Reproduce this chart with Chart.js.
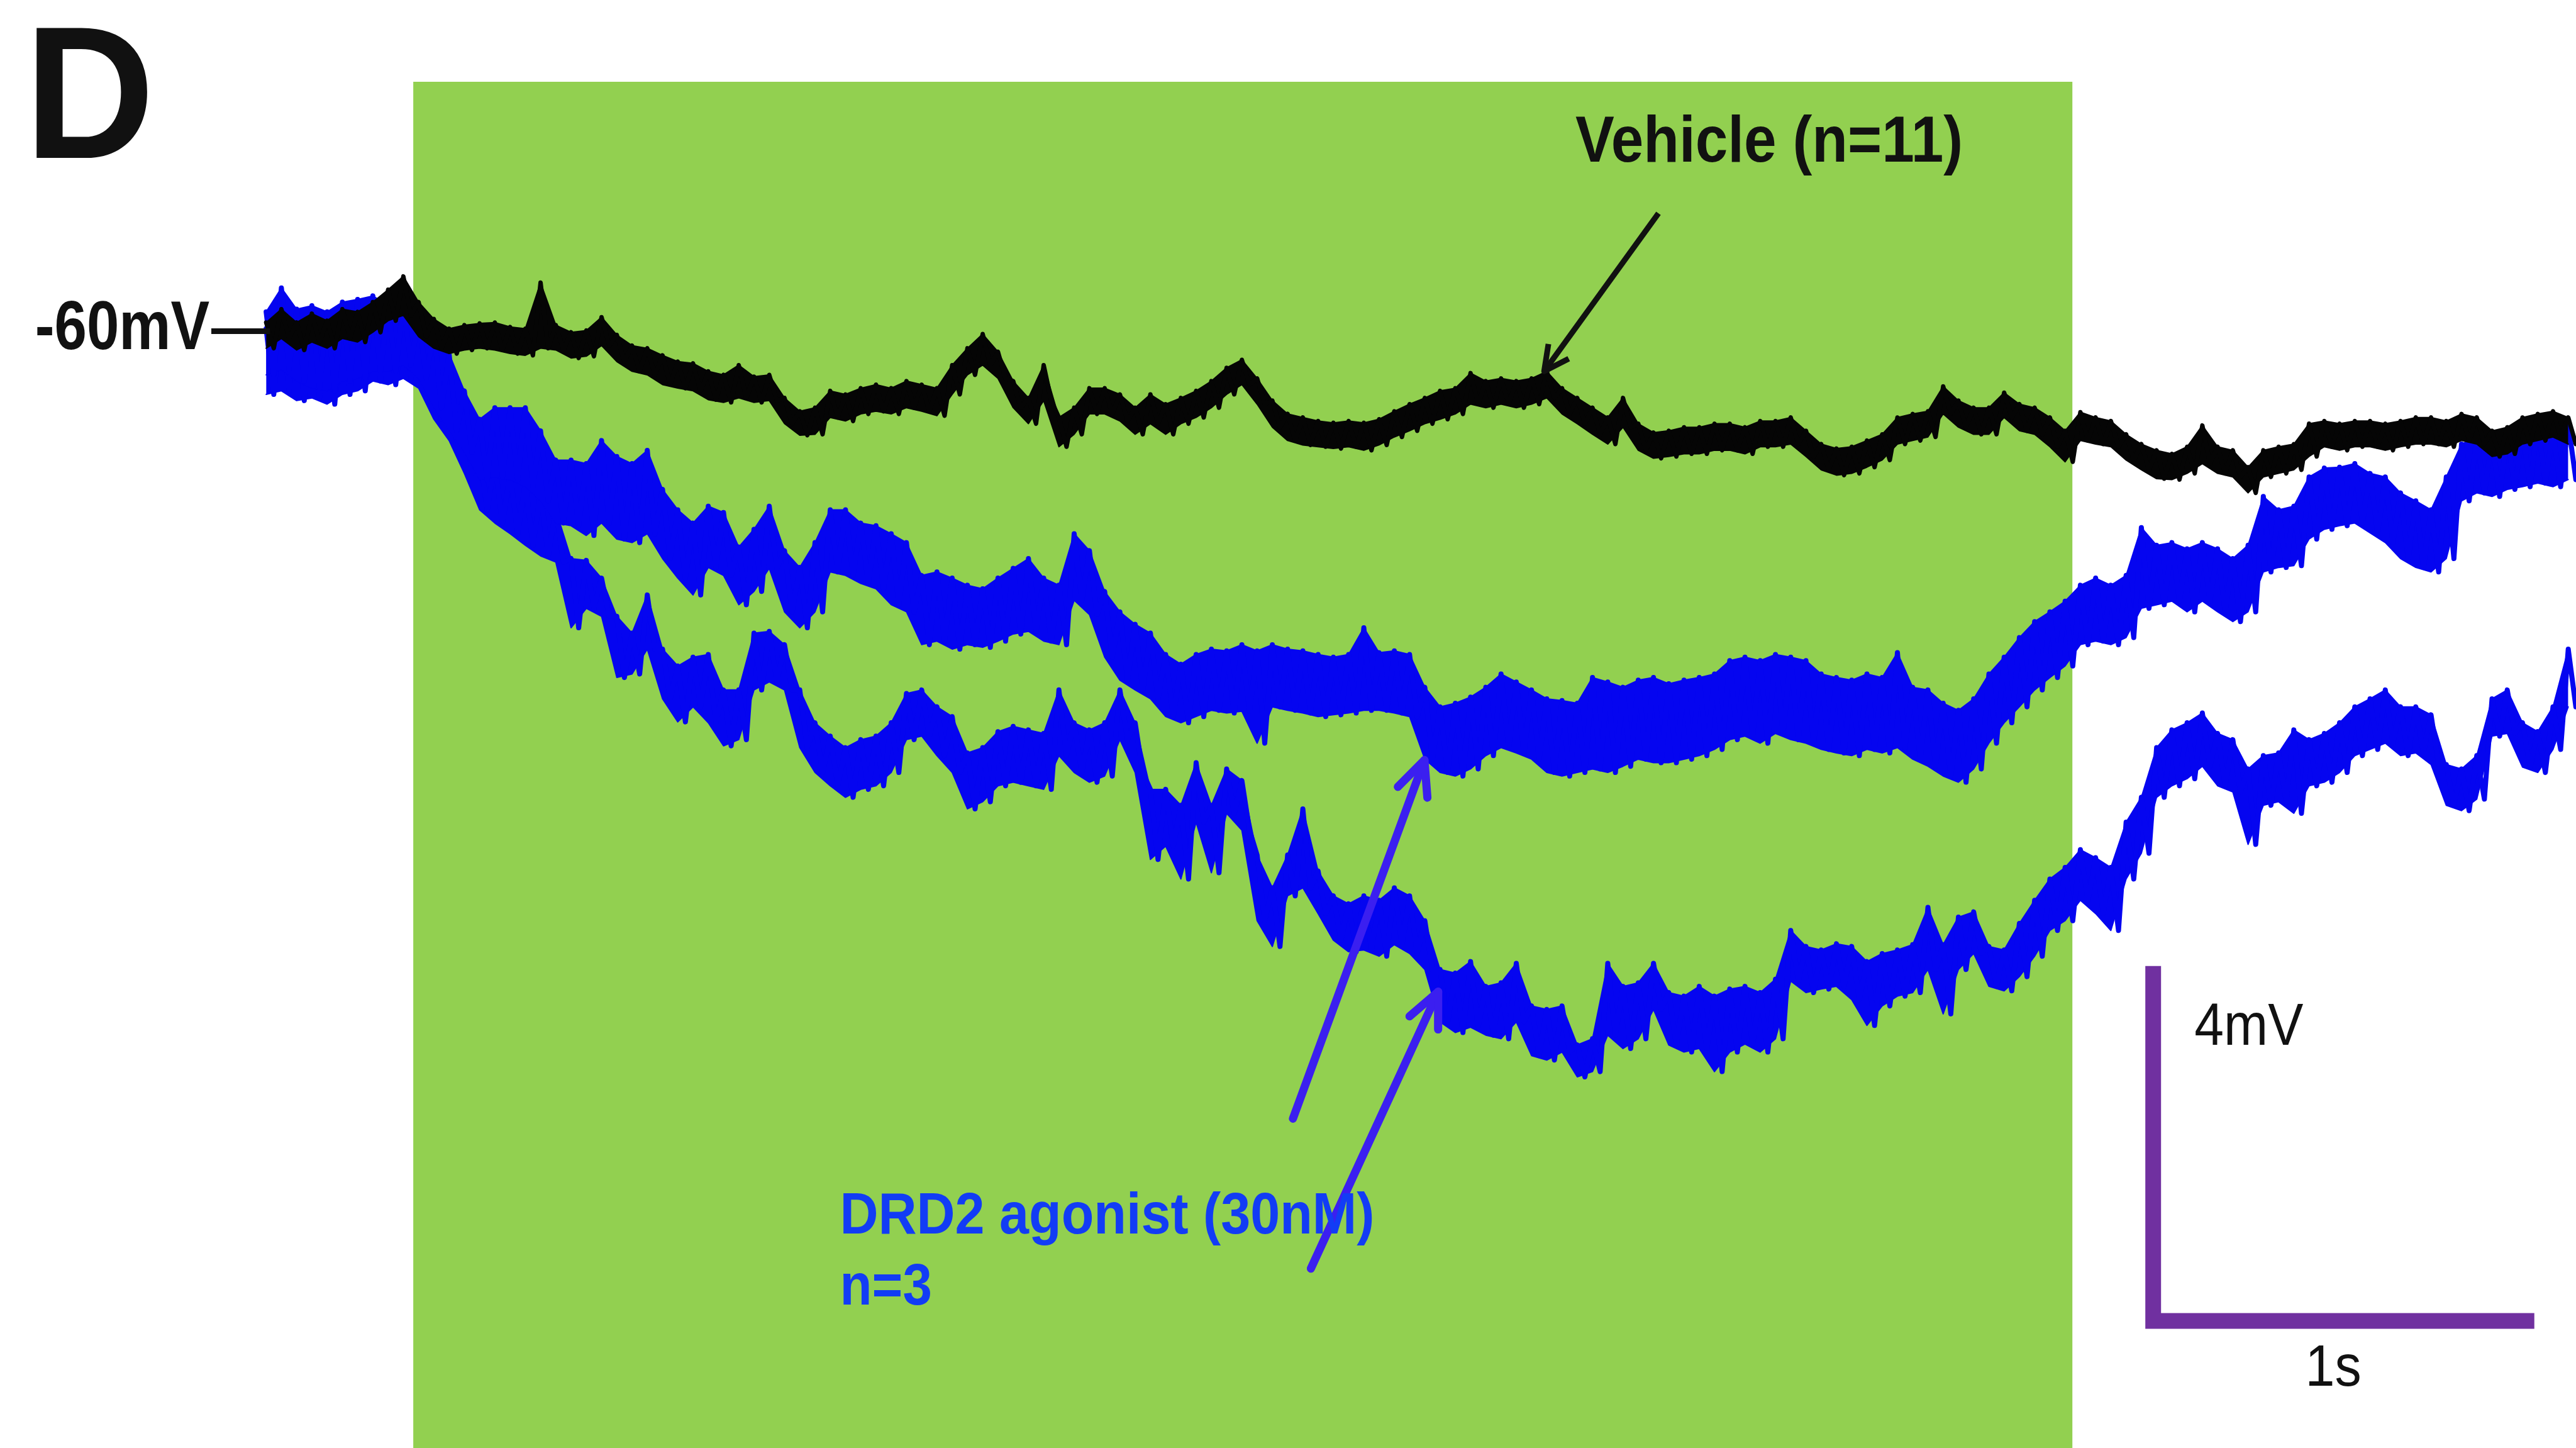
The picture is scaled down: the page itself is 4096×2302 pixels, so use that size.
<!DOCTYPE html>
<html>
<head>
<meta charset="utf-8">
<title>DRD2 agonist vs vehicle – membrane potential</title>
<style>
  html, body { margin: 0; padding: 0; background: #ffffff; overflow: hidden; }
  canvas { display: block; }
</style>
<script src="https://cdn.jsdelivr.net/npm/chart.js@4.4.1/dist/chart.umd.min.js"></script>
</head>
<body>
<canvas id="trace" width="4096" height="2302" style="width:4096px;height:2302px"></canvas>
<script>
// Membrane potential traces, as deflection (mV) from the -60 mV resting level.
// Each trace is stored as the upper and lower edge of its noise band,
// one pair of values per 40 ms bin, starting at t = 0 s.
const sampleInterval = 0.04; // s

// Drug application window (s)
const drugOn = 0.386;
const drugOff = 4.739;

// Vehicle (n=11)
const vehicleUpper = [
  0.07, 0.22, 0.07, 0.17, 0.09, 0.22, 0.19, 0.30, 0.44, 0.59,
  0.30, 0.11, 0.00, 0.04, 0.06, 0.07, 0.02, 0.00, 0.52, 0.04,
  -0.04, -0.02, 0.13, -0.07, -0.19, -0.22, -0.30, -0.37, -0.39, -0.48,
  -0.52, -0.41, -0.54, -0.52, -0.78, -0.93, -0.89, -0.70, -0.74, -0.67,
  -0.63, -0.67, -0.59, -0.63, -0.67, -0.41, -0.22, -0.06, -0.26, -0.59,
  -0.78, -0.41, -1.00, -0.89, -0.67, -0.67, -0.74, -0.89, -0.74, -0.85,
  -0.78, -0.70, -0.59, -0.44, -0.35, -0.56, -0.81, -0.96, -1.00, -1.04,
  -1.06, -1.04, -1.06, -1.02, -0.93, -0.85, -0.78, -0.70, -0.67, -0.50,
  -0.59, -0.56, -0.59, -0.56, -0.48, -0.67, -0.78, -0.89, -1.00, -0.78,
  -1.07, -1.17, -1.15, -1.11, -1.11, -1.07, -1.07, -1.11, -1.04, -1.04,
  -1.00, -1.15, -1.30, -1.35, -1.33, -1.26, -1.19, -1.00, -0.96, -0.93,
  -0.65, -0.81, -0.89, -0.89, -0.72, -0.85, -0.89, -1.00, -1.15, -0.94,
  -1.00, -1.04, -1.19, -1.30, -1.37, -1.41, -1.33, -1.09, -1.33, -1.37,
  -1.56, -1.37, -1.33, -1.30, -1.07, -1.04, -1.07, -1.04, -1.04, -1.07,
  -1.04, -1.00, -1.00, -1.04, -0.96, -1.00, -1.15, -1.11, -1.00, -0.96,
  -0.93, -1.00
];
const vehicleLower = [
  -0.22, -0.11, -0.24, -0.15, -0.22, -0.11, -0.15, -0.04, 0.09, 0.15,
  -0.09, -0.22, -0.28, -0.24, -0.22, -0.24, -0.28, -0.30, -0.22, -0.24,
  -0.33, -0.31, -0.19, -0.37, -0.48, -0.52, -0.63, -0.67, -0.70, -0.80,
  -0.83, -0.78, -0.83, -0.81, -1.07, -1.20, -1.19, -1.00, -1.04, -0.96,
  -0.93, -0.96, -0.89, -0.93, -0.98, -0.74, -0.52, -0.41, -0.56, -0.89,
  -1.07, -0.81, -1.33, -1.19, -0.96, -0.96, -1.04, -1.19, -1.07, -1.19,
  -1.07, -1.00, -0.89, -0.74, -0.63, -0.85, -1.11, -1.26, -1.31, -1.33,
  -1.35, -1.33, -1.37, -1.31, -1.22, -1.15, -1.07, -1.02, -0.96, -0.85,
  -0.89, -0.85, -0.89, -0.85, -0.78, -0.96, -1.07, -1.19, -1.30, -1.11,
  -1.37, -1.46, -1.44, -1.41, -1.41, -1.37, -1.37, -1.41, -1.33, -1.33,
  -1.30, -1.44, -1.59, -1.65, -1.63, -1.56, -1.48, -1.30, -1.26, -1.22,
  -0.96, -1.11, -1.19, -1.19, -1.00, -1.15, -1.19, -1.33, -1.50, -1.26,
  -1.30, -1.33, -1.48, -1.59, -1.69, -1.70, -1.63, -1.52, -1.63, -1.67,
  -1.85, -1.67, -1.63, -1.59, -1.44, -1.33, -1.37, -1.33, -1.33, -1.37,
  -1.33, -1.30, -1.30, -1.33, -1.26, -1.30, -1.44, -1.41, -1.30, -1.26,
  -1.22, -1.30
];

// DRD2 agonist (30 nM), cell with the smaller hyperpolarisation
const agonistShallowUpper = [
  0.19, 0.46, 0.22, 0.26, 0.19, 0.30, 0.33, 0.37, 0.26, 0.30,
  0.15, 0.00, -0.28, -0.70, -1.02, -0.89, -0.89, -0.89, -1.15, -1.48,
  -1.48, -1.52, -1.26, -1.44, -1.52, -1.37, -1.81, -2.04, -2.19, -2.00,
  -2.07, -2.46, -2.26, -2.00, -2.50, -2.69, -2.41, -2.04, -2.04, -2.19,
  -2.22, -2.31, -2.41, -2.78, -2.74, -2.81, -2.89, -2.93, -2.81, -2.70,
  -2.59, -2.81, -2.89, -2.31, -2.50, -2.96, -3.19, -3.33, -3.43, -3.67,
  -3.78, -3.67, -3.61, -3.63, -3.56, -3.63, -3.56, -3.61, -3.63, -3.67,
  -3.70, -3.67, -3.37, -3.65, -3.63, -3.67, -4.04, -4.26, -4.22, -4.15,
  -4.04, -3.89, -3.98, -4.07, -4.17, -4.19, -4.22, -3.93, -3.98, -4.04,
  -3.96, -3.93, -4.00, -3.96, -3.93, -3.89, -3.74, -3.70, -3.74, -3.67,
  -3.70, -3.74, -3.89, -3.93, -3.96, -3.89, -3.93, -3.65, -4.04, -4.07,
  -4.22, -4.30, -4.17, -3.89, -3.70, -3.48, -3.30, -3.19, -3.07, -2.89,
  -2.81, -2.89, -2.78, -2.24, -2.44, -2.41, -2.48, -2.41, -2.48, -2.59,
  -2.44, -1.89, -2.04, -2.00, -1.67, -1.57, -1.56, -1.52, -1.63, -1.67,
  -1.85, -1.94, -2.04, -1.67, -1.30, -1.22, -1.26, -1.19, -1.15, -1.07,
  -1.15, -1.07
];
const agonistShallowLower = [
  -0.52, -0.46, -0.59, -0.67, -0.70, -0.59, -0.56, -0.48, -0.48, -0.41,
  -0.56, -0.89, -1.15, -1.39, -1.70, -1.67, -1.70, -1.78, -1.94, -2.19,
  -2.22, -2.33, -2.19, -2.37, -2.41, -2.31, -2.59, -2.81, -3.00, -2.69,
  -2.78, -3.11, -2.96, -2.70, -3.19, -3.37, -3.19, -2.74, -2.78, -2.87,
  -2.93, -3.11, -3.19, -3.56, -3.52, -3.61, -3.56, -3.59, -3.52, -3.44,
  -3.41, -3.52, -3.56, -3.06, -3.22, -3.70, -3.96, -4.07, -4.17, -4.37,
  -4.44, -4.37, -4.30, -4.33, -4.31, -4.67, -4.26, -4.30, -4.33, -4.37,
  -4.35, -4.33, -4.30, -4.30, -4.33, -4.37, -4.85, -5.00, -5.04, -4.96,
  -4.81, -4.72, -4.78, -4.85, -5.00, -5.04, -5.00, -4.96, -5.00, -4.93,
  -4.85, -4.89, -4.89, -4.85, -4.81, -4.74, -4.63, -4.59, -4.67, -4.56,
  -4.63, -4.67, -4.74, -4.78, -4.81, -4.74, -4.78, -4.72, -4.85, -4.93,
  -5.04, -5.11, -4.96, -4.67, -4.44, -4.26, -4.07, -3.93, -3.80, -3.56,
  -3.52, -3.56, -3.48, -3.15, -3.11, -3.07, -3.19, -3.07, -3.19, -3.30,
  -3.19, -2.74, -2.69, -2.67, -2.37, -2.26, -2.22, -2.19, -2.30, -2.41,
  -2.59, -2.69, -2.74, -2.59, -1.94, -1.85, -1.89, -1.81, -1.78, -1.74,
  -1.78, -1.70
];

// DRD2 agonist (30 nM), cell with the larger hyperpolarisation
const agonistDeepUpper = [
  0.00, 0.15, 0.04, 0.07, 0.00, 0.11, 0.07, 0.15, 0.07, 0.11,
  0.00, -0.28, -0.56, -1.02, -1.39, -1.52, -1.63, -1.74, -1.85, -2.04,
  -2.59, -2.61, -2.81, -3.24, -3.43, -3.00, -3.61, -3.80, -3.70, -3.67,
  -4.07, -4.07, -3.43, -3.41, -3.56, -4.07, -4.44, -4.59, -4.72, -4.63,
  -4.59, -4.44, -4.11, -4.07, -4.26, -4.37, -4.78, -4.72, -4.54, -4.48,
  -4.52, -4.56, -4.07, -4.44, -4.52, -4.44, -4.07, -4.44, -5.19, -5.19,
  -5.37, -4.89, -5.37, -4.96, -5.09, -5.93, -6.30, -5.93, -5.41, -6.11,
  -6.39, -6.48, -6.39, -6.44, -6.30, -6.39, -6.67, -7.22, -7.26, -7.13,
  -7.41, -7.37, -7.15, -7.63, -7.67, -7.63, -8.07, -8.00, -7.15, -7.41,
  -7.37, -7.15, -7.48, -7.52, -7.41, -7.52, -7.44, -7.41, -7.48, -7.33,
  -6.78, -6.96, -7.00, -6.93, -6.96, -7.13, -7.04, -7.00, -6.94, -6.52,
  -6.94, -6.63, -6.57, -6.96, -7.00, -6.70, -6.44, -6.20, -6.07, -5.87,
  -5.96, -6.07, -5.56, -5.28, -4.72, -4.52, -4.44, -4.33, -4.56, -4.63,
  -4.96, -4.81, -4.78, -4.52, -4.63, -4.56, -4.44, -4.26, -4.17, -4.07,
  -4.26, -4.26, -4.35, -4.91, -4.96, -4.81, -4.17, -4.07, -4.44, -4.54,
  -4.26, -3.61
];
const agonistDeepLower = [
  -0.74, -0.70, -0.81, -0.78, -0.85, -0.74, -0.70, -0.59, -0.63, -0.56,
  -0.67, -1.02, -1.26, -1.63, -2.04, -2.19, -2.31, -2.44, -2.56, -2.63,
  -3.37, -3.15, -3.24, -3.93, -3.89, -3.61, -4.17, -4.43, -4.26, -4.44,
  -4.70, -4.63, -4.07, -3.98, -4.07, -4.72, -5.00, -5.15, -5.28, -5.19,
  -5.15, -5.00, -4.63, -4.59, -4.81, -5.00, -5.41, -5.33, -5.15, -5.11,
  -5.15, -5.19, -4.81, -5.00, -5.11, -5.04, -4.63, -5.00, -5.98, -5.83,
  -6.20, -5.56, -6.13, -5.46, -5.65, -6.67, -6.96, -6.39, -6.30, -6.59,
  -6.89, -7.02, -7.00, -7.07, -6.94, -7.04, -7.22, -7.81, -7.93, -7.87,
  -7.96, -8.00, -7.81, -8.19, -8.24, -8.15, -8.43, -8.37, -7.96, -8.11,
  -8.00, -7.67, -8.07, -8.15, -8.11, -8.37, -8.15, -8.06, -8.15, -8.00,
  -7.35, -7.48, -7.44, -7.41, -7.56, -7.85, -7.63, -7.52, -7.48, -7.22,
  -7.72, -7.22, -7.04, -7.41, -7.46, -7.30, -7.07, -6.78, -6.67, -6.44,
  -6.59, -6.78, -6.20, -5.91, -5.28, -5.15, -5.07, -4.93, -5.15, -5.22,
  -5.81, -5.37, -5.33, -5.46, -5.15, -5.11, -5.00, -4.81, -4.74, -4.67,
  -4.81, -4.78, -4.91, -5.37, -5.43, -5.30, -4.59, -4.56, -4.94, -5.00,
  -4.74, -4.26
];

// Scale bar values
const scaleBarTime = 1;     // s
const scaleBarVoltage = 4;  // mV

// Band edge as a line, one point per bin.
function edgePoints(values) {
  return values.map((v, i) => ({ x: i * sampleInterval, y: v }));
}
// Interleave the band edges so the line sweeps top-bottom-top through each bin.
function bandToPoints(upper, lower) {
  const pts = [];
  for (let i = 0; i < upper.length; i++) {
    pts.push({ x: i * sampleInterval, y: upper[i] });
    pts.push({ x: (i + 0.5) * sampleInterval, y: lower[i] });
  }
  return pts;
}

const FONT = '"Liberation Sans", Arial, Helvetica, sans-serif';

// Draw text so its ink starts at `left` and spans `inkWidth` pixels.
function drawLabel(ctx, str, left, baseline, font, color, inkWidth) {
  ctx.save();
  ctx.font = font;
  ctx.fillStyle = color;
  ctx.textAlign = 'left';
  ctx.textBaseline = 'alphabetic';
  const m = ctx.measureText(str);
  const w = m.actualBoundingBoxLeft + m.actualBoundingBoxRight;
  const sx = inkWidth ? inkWidth / w : 1;
  ctx.translate(left, baseline);
  ctx.scale(sx, 1);
  ctx.fillText(str, m.actualBoundingBoxLeft, 0);
  ctx.restore();
}

function drawArrow(ctx, x0, y0, x1, y1, color, width, headLen, headAngle, cap) {
  const ang = Math.atan2(y0 - y1, x0 - x1);
  ctx.save();
  ctx.strokeStyle = color;
  ctx.lineWidth = width;
  ctx.lineCap = cap;
  ctx.lineJoin = 'round';
  ctx.beginPath();
  ctx.moveTo(x0, y0);
  ctx.lineTo(x1, y1);
  ctx.stroke();
  ctx.beginPath();
  ctx.moveTo(x1 + headLen * Math.cos(ang + headAngle), y1 + headLen * Math.sin(ang + headAngle));
  ctx.lineTo(x1, y1);
  ctx.lineTo(x1 + headLen * Math.cos(ang - headAngle), y1 + headLen * Math.sin(ang - headAngle));
  ctx.stroke();
  ctx.restore();
}

const figureDecor = {
  id: 'figureDecor',
  beforeDatasetsDraw(chart) {
    const { ctx, chartArea, scales: { x } } = chart;
    const x0 = x.getPixelForValue(drugOn);
    const x1 = x.getPixelForValue(drugOff);
    ctx.save();
    ctx.fillStyle = '#92d050';
    ctx.fillRect(x0, 130, x1 - x0, chartArea.bottom - 130);
    ctx.restore();
  },
  afterDatasetsDraw(chart) {
    const { ctx, scales: { x, y } } = chart;

    // Panel letter
    drawLabel(ctx, 'D', 57, 251, 'bold 300px ' + FONT, '#111111', 179);

    // Resting level marker
    const restY = y.getPixelForValue(0);
    ctx.save();
    ctx.strokeStyle = '#111111';
    ctx.lineWidth = 9;
    ctx.beginPath();
    ctx.moveTo(336, restY + 4);
    ctx.lineTo(x.getPixelForValue(0) + 6, restY + 4);
    ctx.stroke();
    ctx.restore();
    drawLabel(ctx, '-60mV', 59, 555, 'bold 110px ' + FONT, '#111111', 274);

    // Vehicle label and arrow
    drawLabel(ctx, 'Vehicle (n=11)', 2505, 257, 'bold 104px ' + FONT, '#111111', 612);
    drawArrow(ctx, x.getPixelForValue(3.653), y.getPixelForValue(1.30),
              x.getPixelForValue(3.353), y.getPixelForValue(-0.48),
              '#111111', 9, 44, 0.47, 'butt');

    // DRD2 agonist arrows and label
    const arrowBlue = '#3b1ff0';
    drawArrow(ctx, x.getPixelForValue(2.694), y.getPixelForValue(-8.90),
              x.getPixelForValue(3.039), y.getPixelForValue(-4.86),
              arrowBlue, 13, 60, 0.43, 'round');
    drawArrow(ctx, x.getPixelForValue(2.741), y.getPixelForValue(-10.59),
              x.getPixelForValue(3.075), y.getPixelForValue(-7.47),
              arrowBlue, 13, 60, 0.43, 'round');
    drawLabel(ctx, 'DRD2 agonist (30nM)', 1341, 1961, 'bold 92px ' + FONT, '#123cf5', 841);
    drawLabel(ctx, 'n=3', 1341, 2074, 'bold 92px ' + FONT, '#123cf5', 138);

    // Scale bar
    const t0 = 4.951, v0 = -11.18;
    ctx.save();
    ctx.strokeStyle = '#7030a0';
    ctx.lineWidth = 25;
    ctx.lineCap = 'butt';
    ctx.lineJoin = 'miter';
    ctx.beginPath();
    ctx.moveTo(x.getPixelForValue(t0), y.getPixelForValue(v0 + scaleBarVoltage));
    ctx.lineTo(x.getPixelForValue(t0), y.getPixelForValue(v0));
    ctx.lineTo(x.getPixelForValue(t0 + scaleBarTime), y.getPixelForValue(v0));
    ctx.stroke();
    ctx.restore();
    drawLabel(ctx, scaleBarVoltage + 'mV', 3491, 1661, '95px ' + FONT, '#111111', 171);
    drawLabel(ctx, scaleBarTime + 's', 3672, 2203, '92px ' + FONT, '#111111', 80);
  }
};

const lineStyle = {
  pointRadius: 0,
  pointHoverRadius: 0,
  tension: 0,
  borderJoinStyle: 'round',
  borderCapStyle: 'round'
};

// One trace = the sweep through its band, over a fill between the band edges.
function traceDatasets(name, upper, lower, color, sweepWidth) {
  return [
    Object.assign({ label: name, data: bandToPoints(upper, lower),
      borderColor: color, borderWidth: sweepWidth, fill: false }, lineStyle),
    Object.assign({ label: name + ' upper', data: edgePoints(upper),
      borderColor: color, borderWidth: 2, backgroundColor: color, fill: '+1' }, lineStyle),
    Object.assign({ label: name + ' lower', data: edgePoints(lower),
      borderColor: color, borderWidth: 2, fill: false }, lineStyle)
  ];
}

const traceBlue = '#0505f0';

new Chart(document.getElementById('trace'), {
  type: 'line',
  data: {
    datasets: [].concat(
      traceDatasets('Vehicle (n=11)', vehicleUpper, vehicleLower, '#050505', 7),
      traceDatasets('DRD2 agonist (30nM) a', agonistShallowUpper, agonistShallowLower, traceBlue, 8),
      traceDatasets('DRD2 agonist (30nM) b', agonistDeepUpper, agonistDeepLower, traceBlue, 8)
    )
  },
  options: {
    responsive: false,
    animation: false,
    devicePixelRatio: 1,
    events: [],
    parsing: false,
    normalized: true,
    layout: { padding: 0 },
    scales: {
      x: { type: 'linear', min: -162 / 232, max: 1406 / 232, display: false },
      y: { type: 'linear', min: -681 / 54, max: 200 / 54, display: false }
    },
    plugins: {
      legend: { display: false },
      tooltip: { enabled: false },
      title: { display: false },
      filler: { propagate: false }
    }
  },
  plugins: [figureDecor]
});
</script>
</body>
</html>
